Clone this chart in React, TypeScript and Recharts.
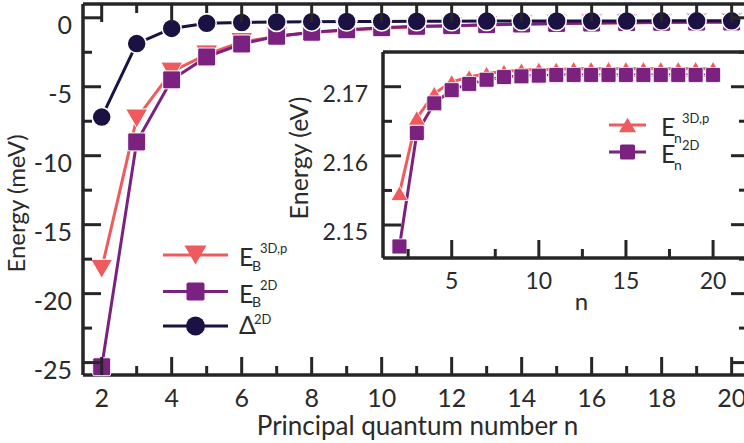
import React from 'react';
import { LineChart, Line, XAxis, YAxis, Legend } from 'recharts';

// principal quantum number n
const nValues = [2, 3, 4, 5, 6, 7, 8, 9, 10, 11, 12, 13, 14, 15, 16, 17, 18, 19, 20];

// binding energies (meV)
const eb3Dp = [-18.2, -7.3, -3.9, -2.65, -1.75, -1.36, -1.07, -0.9, -0.75, -0.65, -0.59, -0.52, -0.47, -0.43, -0.4, -0.37, -0.35, -0.33, -0.32];
const eb2D = [-25.3, -9.0, -4.5, -2.84, -1.9, -1.34, -1.05, -0.87, -0.72, -0.62, -0.57, -0.5, -0.45, -0.41, -0.38, -0.35, -0.33, -0.31, -0.3];
const delta2D = [-7.2, -1.87, -0.77, -0.4, -0.34, -0.3, -0.28, -0.27, -0.26, -0.25, -0.25, -0.24, -0.24, -0.23, -0.23, -0.23, -0.22, -0.22, -0.22];

// exciton level energies (eV)
const en3Dp = [2.1546, 2.1655, 2.169, 2.1707, 2.1714, 2.1719, 2.1722, 2.1724, 2.1725, 2.1725, 2.1726, 2.1726, 2.1726, 2.1726, 2.1726, 2.1726, 2.1726, 2.1726, 2.1726];
const en2D = [2.1469, 2.1633, 2.1676, 2.1695, 2.1704, 2.171, 2.1714, 2.1715, 2.1716, 2.1717, 2.1717, 2.1717, 2.1717, 2.1717, 2.1717, 2.1717, 2.1717, 2.1717, 2.1717];

const mainXTicks = nValues;
const mainXLabels = [2, 4, 6, 8, 10, 12, 14, 16, 18, 20];
const mainYTicks = [-25, -22.5, -20, -17.5, -15, -12.5, -10, -7.5, -5, -2.5, 0];
const mainYLabels = [-25, -20, -15, -10, -5, 0];

const insetXTicks = [2.5, 5, 7.5, 10, 12.5, 15, 17.5, 20];
const insetXLabels = [5, 10, 15, 20];
const insetYTicks = [2.15, 2.155, 2.16, 2.165, 2.17];
const insetYLabels = [2.15, 2.16, 2.17];

const mainRows = nValues.map((n, i) => ({ n, eb3Dp: eb3Dp[i], eb2D: eb2D[i], delta: delta2D[i] }));
const insetRows = nValues.map((n, i) => ({ n, en3Dp: en3Dp[i], en2D: en2D[i] }));

const CORAL = '#ef5a5d';
const PURPLE = '#7b2281';
const NAVY = '#1b1142';
const INK = '#262626';
const TEXT = '#2a2a2a';
const FONT = 'Lato, "Open Sans", sans-serif';

type Shape = 'circle' | 'square' | 'down' | 'up';

function Marker({ shape, cx, cy, size, fill, ring }: { shape: Shape; cx: number; cy: number; size: number; fill: string; ring: number }) {
  const h = size / 2;
  const common = { fill, stroke: '#fff', strokeWidth: ring };
  if (shape === 'circle') return <circle cx={cx} cy={cy} r={h} {...common} />;
  if (shape === 'square') return <rect x={cx - h} y={cy - h} width={size} height={size} rx={size * 0.1} {...common} />;
  const th = size * 0.86;
  const pts =
    shape === 'down'
      ? `${cx - h},${cy - th / 2} ${cx + h},${cy - th / 2} ${cx},${cy + th / 2}`
      : `${cx - h},${cy + th / 2} ${cx + h},${cy + th / 2} ${cx},${cy - th / 2}`;
  return <polygon points={pts} strokeLinejoin="round" {...common} />;
}

const dotOf = (shape: Shape, size: number, fill: string, ring: number) => (p: any) => (
  <Marker key={`${shape}-${p.index}`} shape={shape} cx={p.cx} cy={p.cy} size={size} fill={fill} ring={ring} />
);

type Side = 'bottom' | 'top' | 'left' | 'right';

const near = (list: number[], v: number) => list.some((l) => Math.abs(l - v) < 1e-6);

// inward tick marks: long ones on the labelled values, short ones between
const tickOf = (side: Side, labels: number[], fontSize: number, gap: number, showText = true, fmt: (v: number) => string = String) => (p: any) => {
  const { x, y, payload } = p;
  const v = payload.value;
  const major = near(labels, v);
  let line: React.ReactNode;
  let text: React.ReactNode = null;
  if (side === 'bottom') {
    line = <line x1={x} x2={x} y1={y} y2={y - (major ? 18 : 9)} />;
    if (major && showText)
      text = <text x={x} y={y + gap} textAnchor="middle" dominantBaseline="central">{fmt(v)}</text>;
  } else if (side === 'top') {
    line = <line x1={x} x2={x} y1={y} y2={y + (major ? 18 : 9)} />;
  } else if (side === 'left') {
    line = <line x1={x} x2={x + (major ? 18 : 9)} y1={y} y2={y} />;
    if (major && showText)
      text = <text x={x - gap} y={y + 6} textAnchor="end" dominantBaseline="central">{fmt(v)}</text>;
  } else {
    line = <line x1={x} x2={x - (major ? 15 : 7)} y1={y} y2={y} />;
  }
  return (
    <g stroke={INK} strokeWidth={3} fill={TEXT} fontFamily={FONT} fontSize={fontSize}>
      {line}
      {text && <g stroke="none">{text}</g>}
    </g>
  );
};

type LegendRow = { key: string; shape: Shape; size: number; base: string; sub?: string; sup: string };

const mainLegend: LegendRow[] = [
  { key: 'eb3Dp', shape: 'down', size: 22, base: 'E', sub: 'B', sup: '3D,p' },
  { key: 'eb2D', shape: 'square', size: 18, base: 'E', sub: 'B', sup: '2D' },
  { key: 'delta', shape: 'circle', size: 19, base: 'Δ', sup: '2D' },
];

const insetLegend: LegendRow[] = [
  { key: 'en3Dp', shape: 'up', size: 17, base: 'E', sub: 'n', sup: '3D,p' },
  { key: 'en2D', shape: 'square', size: 15, base: 'E', sub: 'n', sup: '2D' },
];

function LegendBox({ payload, rows, w, h, rowY, lineX, textX, big, small, subDy }: any) {
  // skip the invisible frame carrier, whose stroke is "none"
  const colorOf = (k: string) =>
    (payload || []).find((e: any) => e.dataKey === k && e.color && e.color !== 'none' && e.type !== 'none')?.color;
  return (
    <svg width={w} height={h} style={{ overflow: 'visible', display: 'block' }}>
      {rows.map((r: LegendRow, i: number) => {
        const color = colorOf(r.key);
        if (!color) return null;
        const y = rowY[i];
        const mx = (lineX[0] + lineX[1]) / 2;
        const isDelta = r.base === 'Δ';
        return (
          <g key={r.key} fontFamily={FONT} fill={TEXT}>
            <line x1={lineX[0]} x2={lineX[1]} y1={y} y2={y} stroke={color} strokeWidth={3} />
            <Marker shape={r.shape} cx={mx} cy={y} size={r.size} fill={color} ring={0} />
            <text x={textX} y={y + (isDelta ? 8 : 11)} fontSize={big}>{r.base}</text>
            {r.sub && <text x={textX + 13} y={y + subDy} fontSize={small + 1}>{r.sub}</text>}
            <text x={textX + (isDelta ? 15 : 21)} y={y - 2} fontSize={small}>{r.sup}</text>
          </g>
        );
      })}
    </svg>
  );
}

function Inset() {
  const xDomain: [number, number] = [1.056, 21.89];
  return (
    <div style={{ position: 'absolute', left: 270, top: 40 }}>
      <LineChart width={490} height={280} data={insetRows} margin={{ top: 11, right: 14, bottom: 0, left: 30 }}>
        <XAxis
          xAxisId="b"
          dataKey="n"
          type="number"
          domain={xDomain}
          ticks={insetXTicks}
          interval={0}
          tickSize={0}
          tickMargin={0}
          height={62}
          axisLine={{ stroke: INK, strokeWidth: 3.5 }}
          tick={tickOf('bottom', insetXLabels, 23, 22)}
          label={{
            content: (p: any) => (
              <text x={p.viewBox.x + p.viewBox.width / 2 + 17} y={p.viewBox.y + 52} textAnchor="middle" fontFamily={FONT} fontSize={24} fill={TEXT}>n</text>
            ),
          }}
        />
        <XAxis xAxisId="t" dataKey="n" type="number" orientation="top" domain={xDomain} height={1} tick={false} tickLine={false} axisLine={{ stroke: INK, strokeWidth: 3.5 }} />
        <YAxis
          yAxisId="l"
          type="number"
          domain={[2.14523, 2.17502]}
          ticks={insetYTicks}
          interval={0}
          tickSize={0}
          tickMargin={0}
          width={83}
          axisLine={{ stroke: INK, strokeWidth: 3.5 }}
          tick={tickOf('left', insetYLabels, 23, 15, true, (v) => v.toFixed(2))}
          label={{
            content: (p: any) => {
              const x = p.viewBox.x + 8;
              const y = p.viewBox.y + p.viewBox.height / 2 + 3;
              return (
                <text x={x} y={y} transform={`rotate(-90 ${x} ${y})`} textAnchor="middle" fontFamily={FONT} fontSize={25} fill={TEXT}>Energy (eV)</text>
              );
            },
          }}
        />
        <Legend
          layout="vertical"
          align="center"
          verticalAlign="middle"
          wrapperStyle={{ left: 330, top: 65, width: 140, height: 70 }}
          content={(p: any) => (
            <LegendBox payload={p.payload} rows={insetLegend} w={140} h={70} rowY={[20, 47]} lineX={[9, 46]} textX={61} big={25} small={13} subDy={18} />
          )}
        />
        <Line xAxisId="t" yAxisId="l" dataKey="en2D" stroke="none" dot={false} activeDot={false} legendType="none" isAnimationActive={false} />
        <Line xAxisId="b" yAxisId="l" dataKey="en3Dp" stroke={CORAL} strokeWidth={3} isAnimationActive={false} activeDot={false} dot={dotOf('up', 17, CORAL, 0.8)} />
        <Line xAxisId="b" yAxisId="l" dataKey="en2D" stroke={PURPLE} strokeWidth={3} isAnimationActive={false} activeDot={false} dot={dotOf('square', 15, PURPLE, 0.8)} />
      </LineChart>
    </div>
  );
}

export default function App() {
  const xDomain: [number, number] = [1.466, 20.41];
  const yDomain: [number, number] = [-25.9, 1.0];
  return (
    <div style={{ position: 'absolute', left: 0, top: 0, width: 744, height: 443, overflow: 'hidden', background: '#fff' }}>
      <div style={{ position: 'absolute', left: 0, top: 0 }}>
        <LineChart width={760} height={443} data={mainRows} margin={{ top: 3, right: 13, bottom: 6, left: 8 }}>
          <XAxis
            xAxisId="b"
            dataKey="n"
            type="number"
            domain={xDomain}
            ticks={mainXTicks}
            interval={0}
            tickSize={0}
            tickMargin={0}
            height={62}
            axisLine={{ stroke: INK, strokeWidth: 3.5 }}
            tick={tickOf('bottom', mainXLabels, 25, 22)}
            label={{
              content: (p: any) => (
                <text x={p.viewBox.x + p.viewBox.width / 2 + 3} y={p.viewBox.y + 60} textAnchor="middle" fontFamily={FONT} fontSize={26} fill={TEXT}>
                  Principal quantum number n
                </text>
              ),
            }}
          />
          <XAxis xAxisId="t" dataKey="n" type="number" orientation="top" domain={xDomain} ticks={mainXTicks} interval={0} tickSize={0} tickMargin={0} height={1} axisLine={{ stroke: INK, strokeWidth: 3.5 }} tick={tickOf('top', mainXLabels, 25, 0, false)} />
          <YAxis
            yAxisId="l"
            type="number"
            domain={yDomain}
            ticks={mainYTicks}
            interval={0}
            tickSize={0}
            tickMargin={0}
            width={75}
            axisLine={{ stroke: INK, strokeWidth: 3.5 }}
            tick={tickOf('left', mainYLabels, 25, 11)}
            label={{
              content: (p: any) => {
                const x = p.viewBox.x + 17;
                const y = p.viewBox.y + p.viewBox.height / 2 + 14;
                return (
                  <text x={x} y={y} transform={`rotate(-90 ${x} ${y})`} textAnchor="middle" fontFamily={FONT} fontSize={24} fill={TEXT}>Energy (meV)</text>
                );
              },
            }}
          />
          <YAxis yAxisId="r" type="number" orientation="right" domain={yDomain} ticks={mainYTicks} interval={0} tickSize={0} tickMargin={0} width={1} axisLine={{ stroke: INK, strokeWidth: 3.5 }} tick={tickOf('right', mainYLabels, 25, 0, false)} />
          <Legend
            layout="vertical"
            align="center"
            verticalAlign="middle"
            wrapperStyle={{ left: 150, top: 235, width: 160, height: 110 }}
            content={(p: any) => (
              <LegendBox payload={p.payload} rows={mainLegend} w={160} h={110} rowY={[20, 56.5, 91]} lineX={[13, 78]} textX={89} big={25} small={13} subDy={15.5} />
            )}
          />
          {/* carries the top and right frame axes */}
          <Line xAxisId="t" yAxisId="r" dataKey="delta" stroke="none" dot={false} activeDot={false} legendType="none" isAnimationActive={false} />
          <Line xAxisId="b" yAxisId="l" dataKey="eb3Dp" stroke={CORAL} strokeWidth={3} isAnimationActive={false} activeDot={false} dot={dotOf('down', 22, CORAL, 1)} />
          <Line xAxisId="b" yAxisId="l" dataKey="eb2D" stroke={PURPLE} strokeWidth={3} isAnimationActive={false} activeDot={false} dot={dotOf('square', 18, PURPLE, 1)} />
          <Line xAxisId="b" yAxisId="l" dataKey="delta" stroke={NAVY} strokeWidth={3} isAnimationActive={false} activeDot={false} dot={dotOf('circle', 19, NAVY, 1.5)} />
        </LineChart>
      </div>
      <Inset />
    </div>
  );
}
